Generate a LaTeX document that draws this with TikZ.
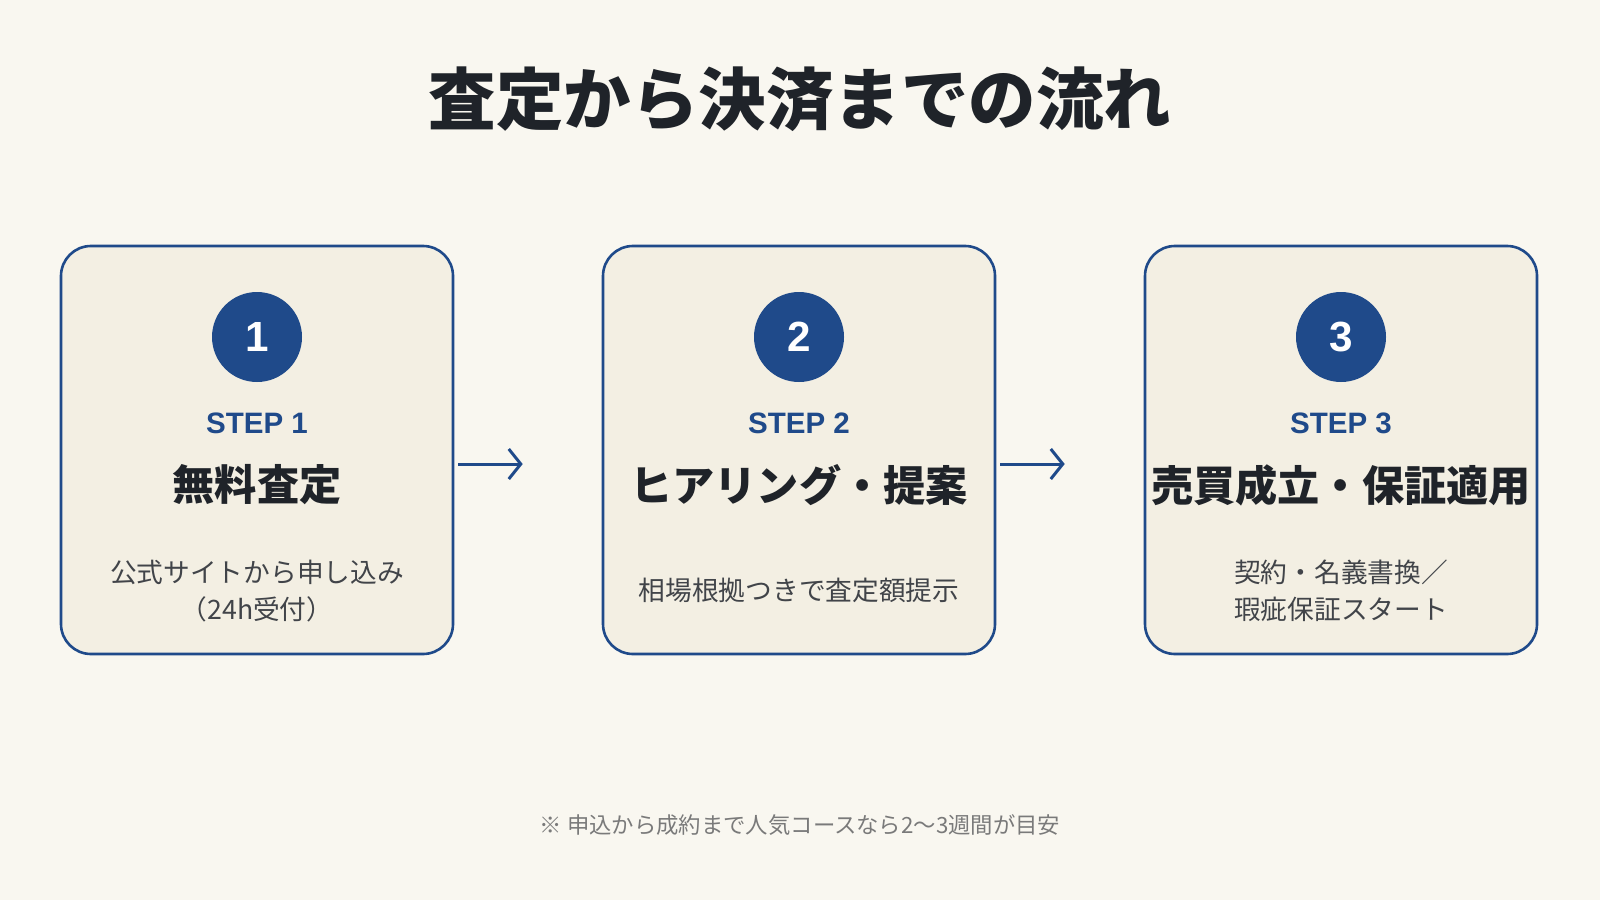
\documentclass[tikz,border=0pt]{standalone}
\usepackage{fontspec}
\setmainfont{Noto Sans CJK JP}
\newfontfamily\latinsf{Liberation Sans}
\usetikzlibrary{arrows.meta}
\definecolor{bgcol}{HTML}{F9F7F0}
\definecolor{boxcol}{HTML}{F3EFE3}
\definecolor{navy}{HTML}{1F4A8A}
\definecolor{ink}{HTML}{1F2329}
\definecolor{notegray}{HTML}{7A7A7A}
\tikzset{
  stepbox/.style={draw=navy, line width=0.65mm, fill=boxcol, rounded corners=7.5mm, minimum width=98mm, minimum height=102mm},
  numdot/.style={circle, fill=navy, minimum size=22.5mm, inner sep=0pt, text=white, font=\latinsf\fontsize{30}{30}\selectfont\bfseries},
  steplabel/.style={text=navy, font=\latinsf\fontsize{21}{21}\selectfont\bfseries},
  steptitle/.style={text=ink, font=\fontsize{30}{30}\selectfont\bfseries},
  stepdesc/.style={text=ink!85, align=center, font=\fontsize{19}{26.3}\selectfont},
  flowarrow/.style={draw=navy, line width=0.75mm, -{Straight Barb[length=3mm,width=7.5mm]}}
}
\begin{document}
\begin{tikzpicture}[x=0.25mm, y=-0.25mm]
%background
	\fill[bgcol] (0,0) rectangle (1600,900);
	\useasboundingbox (0,0) rectangle (1600,900);

	\node[text=ink, font=\fontsize{48}{48}\selectfont\bfseries] (title) at (800,99) {査定から決済までの流れ};

%steps
	\foreach \cx/\n/\ttl in {257/1/無料査定, 799/2/ヒアリング・提案, 1341/3/売買成立・保証適用}{
		\node[stepbox] (b\n) at (\cx,450) {};
		\node[numdot] (c\n) at (\cx,337) {\n};
		\node[steplabel] (s\n) at (\cx,423) {STEP \n};
		\node[steptitle] (t\n) at (\cx,485) {\ttl};
	}

	\node[stepdesc] (d1) at (257,591) {公式サイトから申し込み\\（24h受付）};
	\node[stepdesc] (d2) at (799,590) {相場根拠つきで査定額提示};
	\node[stepdesc] (d3) at (1341,591) {契約・名義書換／\\瑕疵保証スタート};

%arrows
	\draw[flowarrow, shorten <=1mm, shorten >=19.75mm] ([yshift=-3.5mm]b1.east) -- ([yshift=-3.5mm]b2.west);
	\draw[flowarrow, shorten <=1mm, shorten >=19.75mm] ([yshift=-3.5mm]b2.east) -- ([yshift=-3.5mm]b3.west);

%note
	\node[text=notegray, font=\fontsize{15.9}{15.9}\selectfont] (note) at (800,825) {※ 申込から成約まで人気コースなら2〜3週間が目安};
\end{tikzpicture}
\end{document}
